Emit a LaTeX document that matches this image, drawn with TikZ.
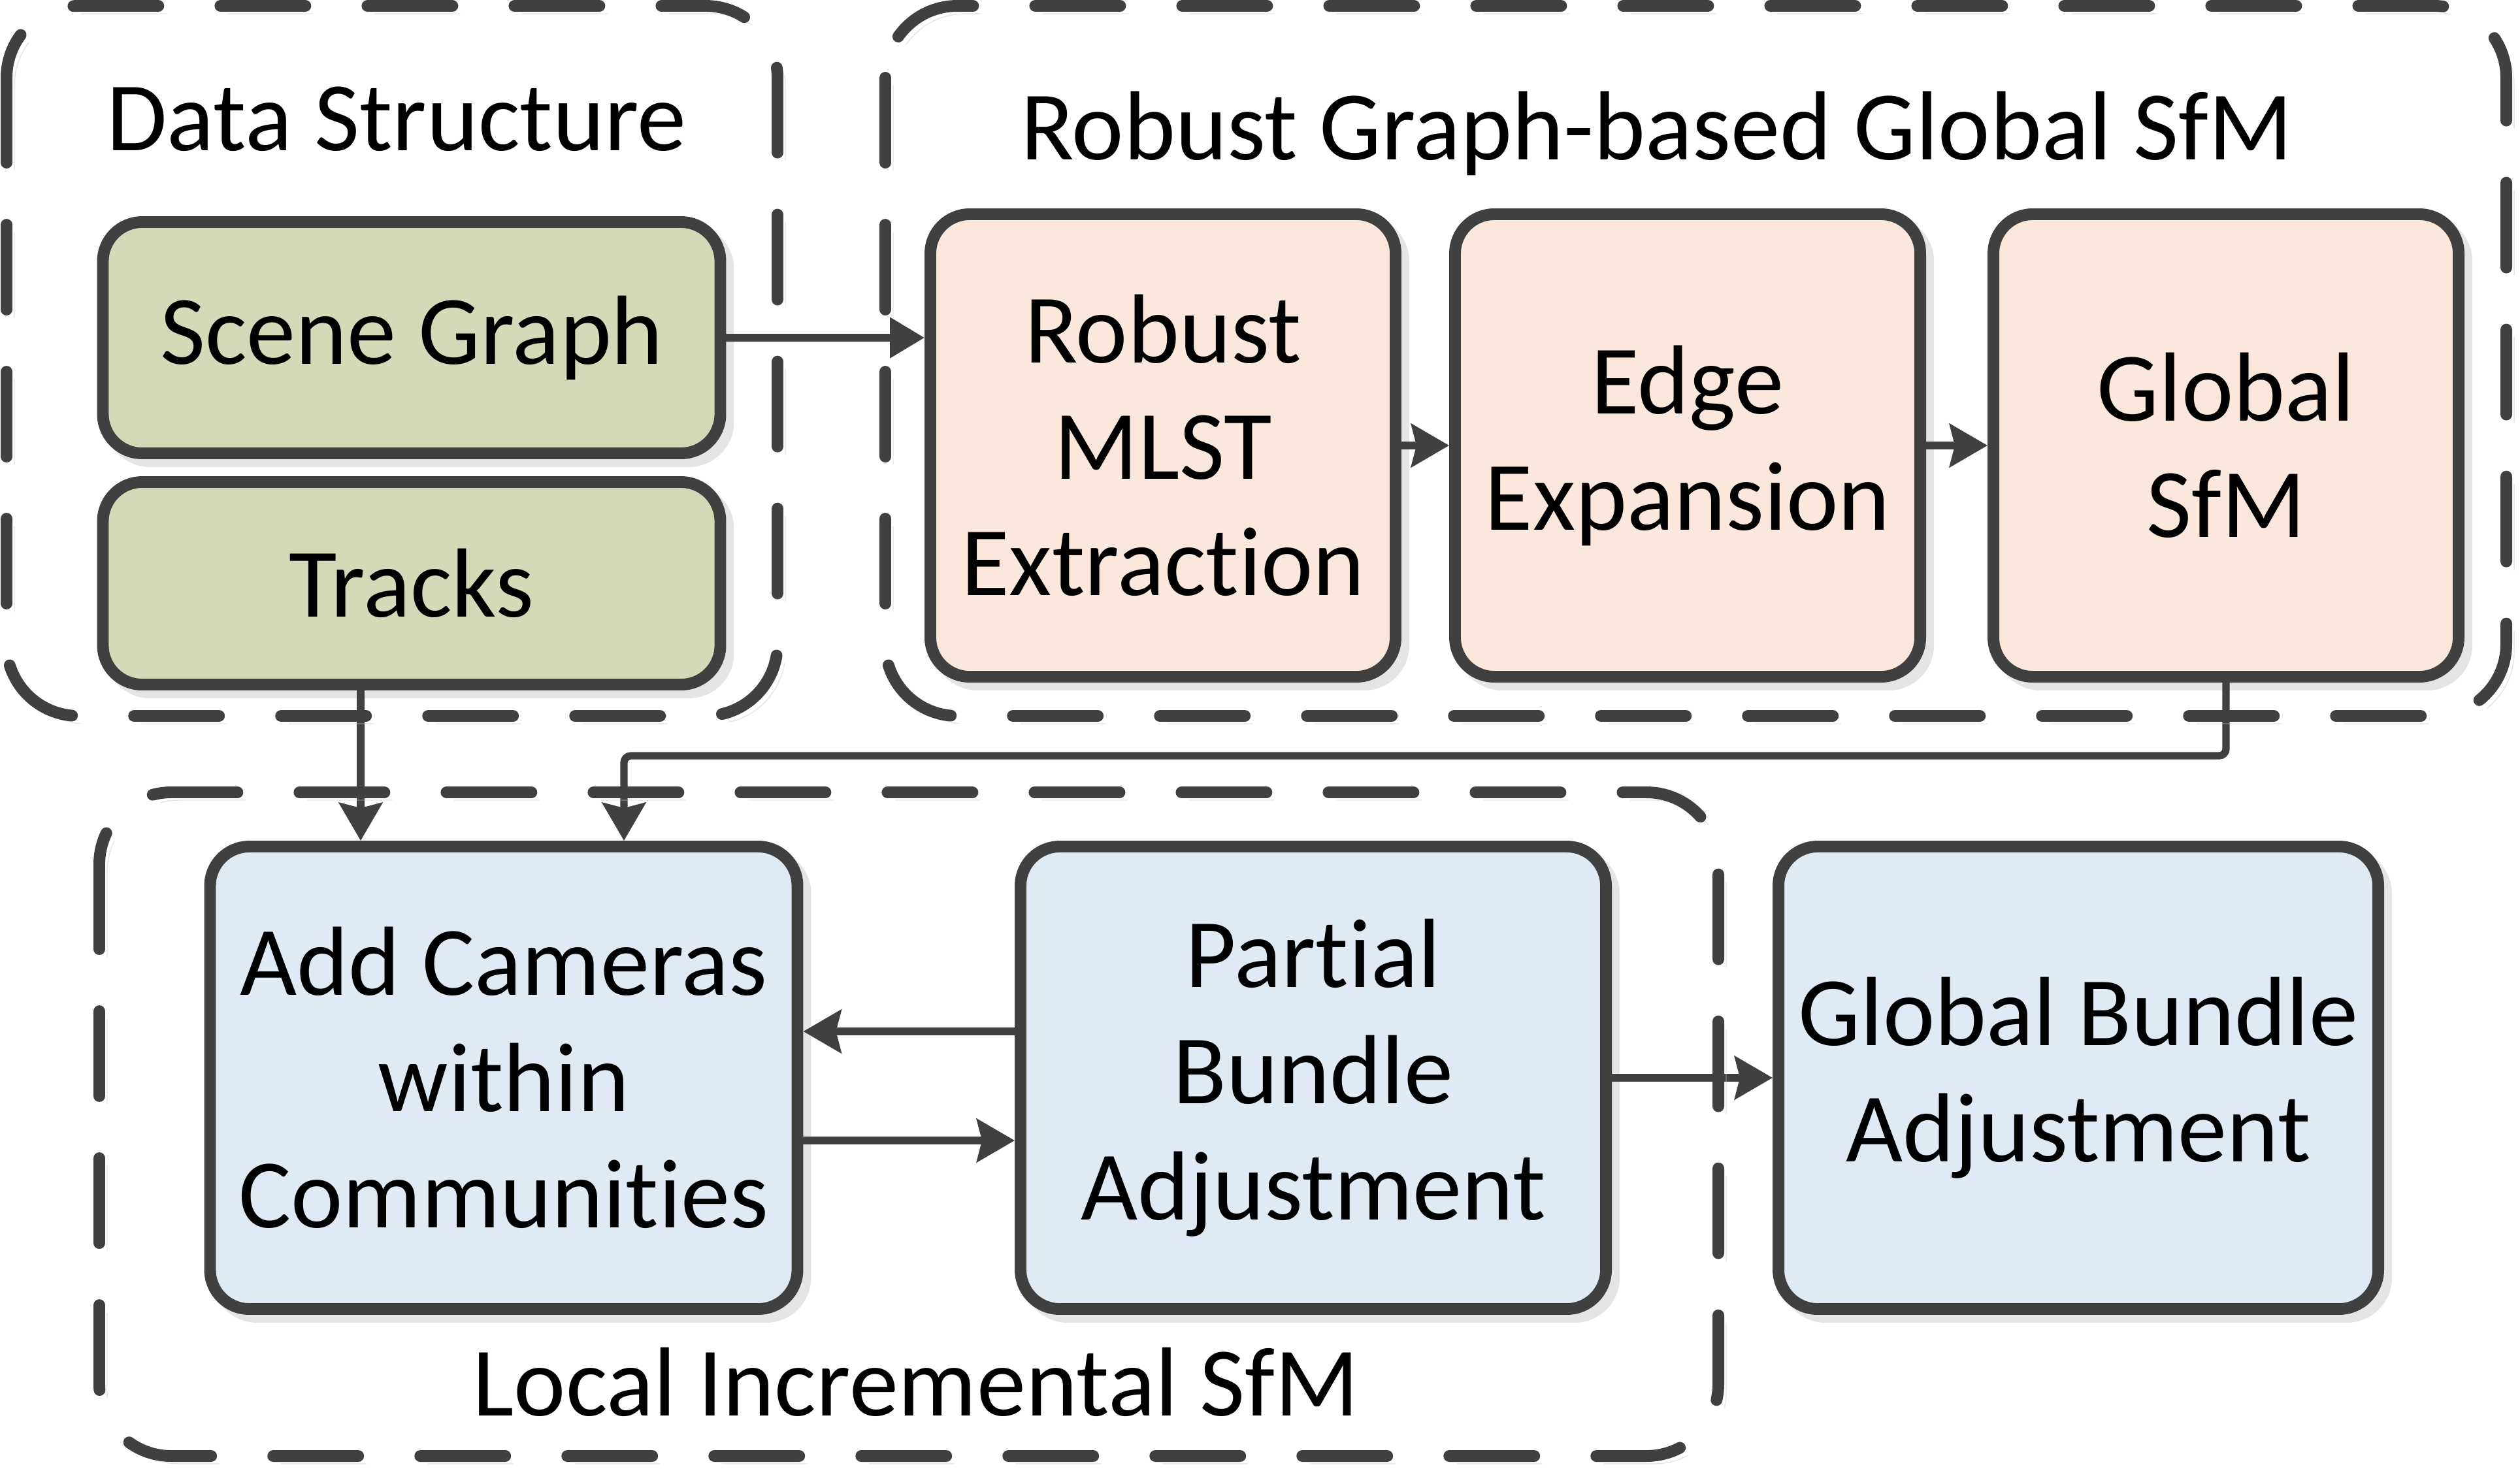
\documentclass[tikz,border=0pt]{standalone}
\usepackage{fontspec}
\setmainfont{Carlito}[Ligatures=NoCommon]
\usetikzlibrary{arrows.meta,positioning}
\definecolor{edgegray}{HTML}{404040}
\definecolor{shadegray}{HTML}{CCCCCC}
\definecolor{datagreen}{HTML}{D3DAB7}
\definecolor{globalpeach}{HTML}{FAE8DD}
\definecolor{localblue}{HTML}{DFEAF4}
\newcommand{\stagefont}{\fontsize{42.8}{50.6}\selectfont}

\begin{document}
\begin{tikzpicture}[
  shadowed/.style={preaction={draw=shadegray,opacity=0.5,#1,transform canvas={shift={(0.12,-0.12)}}}},
  shadowed/.default={},
  stage/.style={draw=edgegray,line width=5.1pt,rounded corners=0.6cm,align=center,inner sep=0pt,font=\stagefont,shadowed},
  datastage/.style={stage,fill=datagreen,minimum width=9.45cm},
  globalstage/.style={stage,fill=globalpeach,minimum width=7.12cm,minimum height=7.08cm},
  localstage/.style={stage,fill=localblue,minimum height=7.08cm},
  group/.style={draw=edgegray,line width=5.1pt,line cap=round,dash pattern=on 1.3cm off 0.95cm,rounded corners=1.1cm,
    shadowed={line cap=round,dash pattern=on 1.3cm off 0.95cm}},
  title/.style={font=\stagefont,anchor=base},
  conn/.style={draw=edgegray,line width=3.2pt,-{Stealth[length=0.58cm,width=0.66cm,inset=0.08cm]}}]
\useasboundingbox (0,0) rectangle (38.57,-22.51);
% stages
\node[datastage,minimum height=3.54cm] (sg) at (6.30,-5.17) {Scene Graph};
\node[datastage,minimum height=3.10cm] (tr) at (6.30,-8.93) {Tracks};
\node[globalstage] (mlst) at (17.80,-6.82) {Robust\\MLST\\Extraction};
\node[globalstage] (ee) at (25.83,-6.82) {Edge\\Expansion};
\node[globalstage] (gs) at (34.07,-6.82) {Global\\SfM};
\node[localstage,minimum width=8.99cm] (ac) at (7.71,-16.50) {Add Cameras\\within\\Communities};
\node[localstage,minimum width=8.96cm] (pba) at (20.10,-16.50) {Partial\\Bundle\\Adjustment};
\node[localstage,minimum width=9.18cm] (gba) at (31.81,-16.50) {Global Bundle\\Adjustment};
% connectors
\coordinate (tk) at (5.52,0);
\coordinate (turn) at (9.55,-11.57);
\draw[conn,-{Triangle[length=0.53cm,width=0.6cm]}] (sg.east) -- (sg.east -| mlst.west);
\draw[conn] (mlst) -- (ee);
\draw[conn] (ee) -- (gs);
\draw[conn] (tr.south -| tk) -- (ac.north -| tk);
\draw[conn,rounded corners=3pt] (gs.south) |- (turn) -- (turn |- ac.north);
\draw[conn] ([yshift=0.71cm]pba.west) -- ([yshift=0.71cm]ac.east);
\draw[conn] ([yshift=-0.96cm]ac.east) -- ([yshift=-0.96cm]pba.west);
\draw[conn] (pba) -- (gba);
% groups
\draw[group] (0.10,-0.09) rectangle (11.90,-10.96);
\draw[group] (13.55,-0.09) rectangle (38.36,-10.96);
\draw[group] (1.52,-12.13) rectangle (26.30,-22.29);
\node[title] (dstitle) at (6.07,-2.30) {Data Structure};
\node[title] (rgtitle) at (25.36,-2.44) {Robust Graph-based Global SfM};
\node[title] (lititle) at (14.02,-21.67) {Local Incremental SfM};
\end{tikzpicture}
\end{document}
